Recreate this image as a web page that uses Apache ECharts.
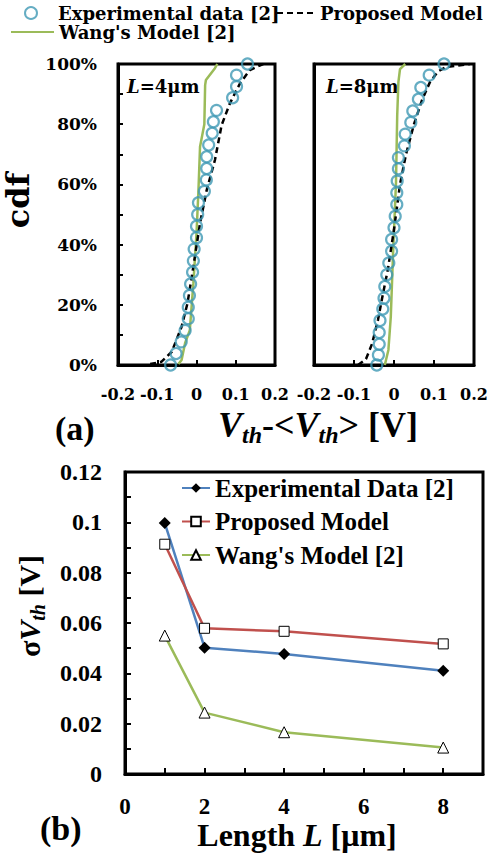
<!DOCTYPE html>
<html><head><meta charset="utf-8">
<script src="https://cdn.jsdelivr.net/npm/echarts/dist/echarts.min.js"></script>
<style>html,body{margin:0;padding:0;background:#fff}#chart{width:490px;height:854px}</style>
</head><body><div id="chart"></div>
<script>
// ---------- (a) cdf panels ----------
const cdfLabelsPct = [0, 20, 40, 60, 80, 100];
// L = 4 um
const expL4_dv  = [0.130,0.102,0.102,0.092,0.051,0.043,0.040,0.031,0.026,0.026,0.025,0.020,0.005,0.003,0.000,0.000,-0.006,-0.008,-0.010,-0.015,-0.018,-0.021,-0.021,-0.029,-0.039,-0.052,-0.066];
const expL4_cdf = [1.000,0.963,0.925,0.888,0.846,0.808,0.770,0.731,0.692,0.653,0.615,0.577,0.539,0.500,0.461,0.423,0.385,0.346,0.308,0.269,0.231,0.192,0.154,0.115,0.077,0.038,0.000];
const propL4_dv  = [-0.118,-0.089,-0.063,-0.038,-0.023,-0.008,0.009,0.026,0.047,0.064,0.085,0.111,0.136,0.170];
const propL4_cdf = [0.003,0.011,0.044,0.127,0.205,0.327,0.471,0.581,0.681,0.797,0.869,0.936,0.980,1.000];
const wangL4_dv  = [-0.046,-0.038,-0.029,-0.017,-0.008,0.000,0.005,0.009,0.020,0.022,0.024,0.047,0.053];
const wangL4_cdf = [0.003,0.017,0.073,0.116,0.271,0.437,0.581,0.725,0.800,0.930,0.947,0.986,1.000];
// L = 8 um
const expL8_dv  = [0.125,0.088,0.067,0.061,0.047,0.042,0.028,0.026,0.011,0.011,0.008,0.007,0.007,0.003,0.000,-0.006,-0.006,-0.013,-0.018,-0.023,-0.025,-0.028,-0.035,-0.037,-0.037,-0.039,-0.043];
const expL8_cdf = [1.000,0.963,0.922,0.883,0.844,0.806,0.767,0.728,0.689,0.652,0.611,0.572,0.533,0.494,0.456,0.417,0.378,0.339,0.300,0.261,0.222,0.186,0.148,0.108,0.069,0.033,0.000];
const propL8_dv  = [-0.090,-0.070,-0.055,-0.040,-0.030,-0.015,0.000,0.015,0.030,0.050,0.070,0.090,0.110,0.130,0.190];
const propL8_cdf = [0.000,0.020,0.070,0.150,0.220,0.320,0.450,0.600,0.700,0.800,0.880,0.940,0.975,0.990,1.000];
const wangL8_dv  = [-0.023,-0.014,-0.008,-0.002,0.005,0.008,0.011,0.015,0.028];
const wangL8_cdf = [0.000,0.050,0.161,0.383,0.606,0.828,0.940,0.983,1.000];

// ---------- (b) sigma Vth vs L ----------
const lengthsUm = [1, 2, 4, 8];
const lengthLabels = [0, 2, 4, 6, 8];
const sigmaLabels = [0, 0.02, 0.04, 0.06, 0.08, 0.1, 0.12];
const sigmaExp  = [0.0997, 0.0502, 0.0477, 0.0410];
const sigmaProp = [0.0913, 0.0579, 0.0567, 0.0517];
const sigmaWang = [0.0550, 0.0244, 0.0166, 0.0105];

const FA = 'DejaVu Serif';
const FB = 'Liberation Serif';
const TEAL = '#3F98B4', GREEN = '#9BBB59', BLUE = '#4F81BD', RED = '#C0504D';

function pairs(xs, ys) { return xs.map((x, i) => [x, ys[i]]); }

const topX = (idx) => ({
  type: 'value', gridIndex: idx, min: -0.2, max: 0.2, interval: 0.1,
  axisLine: { show: true, onZero: false, lineStyle: { color: '#000', width: 3 } },
  axisTick: { show: true, inside: true, length: 5, lineStyle: { color: '#000', width: 2 } },
  axisLabel: { show: true, margin: 21, color: '#000', fontFamily: FA, fontWeight: 'bold', fontSize: 16, lineHeight: 16, showMinLabel: true, showMaxLabel: true },
  splitLine: { show: false }
});
const topY = (idx, showLab) => ({
  type: 'value', gridIndex: idx, min: 0, max: 1, interval: 0.1,
  axisLine: { show: true, onZero: false, lineStyle: { color: '#000', width: 3 } },
  axisTick: { show: showLab, inside: true, length: 5, lineStyle: { color: '#000', width: 2 } },
  axisLabel: { show: showLab, margin: 21, color: '#000', fontFamily: FA, fontWeight: 'bold', fontSize: 17,
    formatter: v => { const p = Math.round(v * 100); return cdfLabelsPct.includes(p) ? p + '%' : ''; } },
  splitLine: { show: false }
});

const yA = topY(0, true);
Object.assign(yA, {
  name: 'cdf', nameLocation: 'middle', nameRotate: 90, nameGap: 85, nameMoveOverlap: false,
  nameTextStyle: { fontFamily: FA, fontWeight: 'bold', fontSize: 32, lineHeight: 30, color: '#000', padding: [0, 0, 0, 28] }
});

function cdfSeries(idx, expX, expY, propX, propY, wangX, wangY) {
  return [
    { name: "Wang's Model [2]", type: 'line', xAxisIndex: idx, yAxisIndex: idx, data: pairs(wangX, wangY),
      symbol: 'none', lineStyle: { color: GREEN, width: 2.5 }, itemStyle: { color: GREEN }, z: 2 },
    { name: 'Proposed Model', type: 'line', xAxisIndex: idx, yAxisIndex: idx, data: pairs(propX, propY),
      symbol: 'none', lineStyle: { color: '#000', width: 2.5, type: [6, 4] }, itemStyle: { color: '#000' }, z: 3 },
    { name: 'Experimental data [2]', type: 'scatter', xAxisIndex: idx, yAxisIndex: idx, data: pairs(expX, expY),
      symbol: 'circle', symbolSize: 11, itemStyle: { color: 'rgba(255,255,255,0)', borderColor: TEAL, borderWidth: 2.2 }, z: 4 }
  ];
}

const legText = { fontFamily: FA, fontWeight: 'bold', fontSize: 18, color: '#000', lineHeight: 18 };
const legBText = { fontFamily: FB, fontWeight: 'bold', fontSize: 25, color: '#000', lineHeight: 26 };
const noSymbol = { color: 'rgba(0,0,0,0)', borderWidth: 0, opacity: 0 };

const option = {
  animation: false,
  backgroundColor: '#fff',
  grid: [
    { left: 118, top: 64, width: 157, height: 301, show: true, borderColor: '#000', borderWidth: 3, backgroundColor: 'rgba(0,0,0,0)', outerBoundsMode: 'none' },
    { left: 314, top: 64, width: 160, height: 301, show: true, borderColor: '#000', borderWidth: 3, backgroundColor: 'rgba(0,0,0,0)', outerBoundsMode: 'none' },
    { left: 125, top: 472, width: 358, height: 302, show: true, borderColor: '#000', borderWidth: 3, backgroundColor: 'rgba(0,0,0,0)', outerBoundsMode: 'none' }
  ],
  xAxis: [
    topX(0), topX(1),
    { type: 'value', gridIndex: 2, min: 0, max: 9, interval: 1,
      axisLine: { show: true, onZero: false, lineStyle: { color: '#000', width: 3 } },
      axisTick: { show: true, inside: true, length: 6, lineStyle: { color: '#000', width: 2 } },
      axisLabel: { margin: 20, color: '#000', fontFamily: FB, fontWeight: 'bold', fontSize: 23, lineHeight: 24,
        formatter: v => lengthLabels.includes(Math.round(v)) && Math.abs(v - Math.round(v)) < 1e-9 ? String(Math.round(v)) : '' },
      splitLine: { show: false },
      name: 'Length {i|L} [μm]', nameLocation: 'middle', nameGap: 46, nameMoveOverlap: false,
      nameTextStyle: { fontFamily: FB, fontWeight: 'bold', fontSize: 32, lineHeight: 30, color: '#000', padding: [0, 14, 0, 0],
        rich: { i: { fontFamily: FB, fontWeight: 'bold', fontStyle: 'italic', fontSize: 32, lineHeight: 30, color: '#000' } } } }
  ],
  yAxis: [
    yA, topY(1, false),
    { type: 'value', gridIndex: 2, min: 0, max: 0.12, interval: 0.01,
      axisLine: { show: true, onZero: false, lineStyle: { color: '#000', width: 3 } },
      axisTick: { show: true, inside: true, length: 6, lineStyle: { color: '#000', width: 2 } },
      axisLabel: { margin: 23, color: '#000', fontFamily: FB, fontWeight: 'bold', fontSize: 24,
        formatter: v => { const r = Math.round(v * 100) / 100; return sigmaLabels.some(s => Math.abs(s - r) < 1e-9) && Math.abs(v - r) < 1e-9 ? String(r) : ''; } },
      splitLine: { show: false },
      name: '{s|σ}{i|V}{sub|th}{n| [V]}', nameLocation: 'middle', nameRotate: 90, nameGap: 77, nameMoveOverlap: false,
      nameTextStyle: { fontFamily: FB, fontWeight: 'bold', fontSize: 30, color: '#000', padding: [0, 0, 0, 34],
        rich: {
          s: { fontFamily: FB, fontWeight: 'bold', fontSize: 30, color: '#000', lineHeight: 32, padding: [0, 0, 4, 0], verticalAlign: 'bottom' },
          i: { fontFamily: FB, fontWeight: 'bold', fontStyle: 'italic', fontSize: 30, color: '#000', lineHeight: 32, padding: [0, 0, 4, 0], verticalAlign: 'bottom' },
          sub: { fontFamily: FB, fontWeight: 'bold', fontStyle: 'italic', fontSize: 20, color: '#000', lineHeight: 20, verticalAlign: 'bottom' },
          n: { fontFamily: FB, fontWeight: 'bold', fontSize: 30, color: '#000', lineHeight: 32, padding: [0, 0, 4, 0], verticalAlign: 'bottom' }
        } } }
  ],
  legend: [
    { data: ['Experimental data [2]'], left: 24, top: 4, padding: 0, itemWidth: 12, itemHeight: 12, selectedMode: false,
      textStyle: Object.assign({}, legText, { padding: [0, 0, 0, 16] }) },
    { data: ['Proposed Model'], left: 276, top: 4, padding: 0, itemWidth: 38, itemHeight: 12, selectedMode: false, textStyle: legText, itemStyle: noSymbol },
    { data: ["Wang's Model [2]"], left: 10, top: 23, padding: 0, itemWidth: 43, itemHeight: 12, selectedMode: false, textStyle: legText, itemStyle: noSymbol },
    { data: ['Experimental Data [2]', 'Proposed Model ', "Wang's Model [2] "], orient: 'vertical', left: 181, top: 475, padding: 0,
      itemWidth: 28, itemHeight: 12, itemGap: 7.5, selectedMode: false, textStyle: legBText, formatter: n => n.trim() }
  ],
  graphic: [
    { type: 'text', x: 127, y: 86, style: { text: '{i|L}{n|=4μm}', verticalAlign: 'middle', fill: '#000',
        rich: { i: { fontFamily: FA, fontWeight: 'bold', fontStyle: 'italic', fontSize: 18, fill: '#000' }, n: { fontFamily: FA, fontWeight: 'bold', fontSize: 18, fill: '#000' } } } },
    { type: 'text', x: 326, y: 86, style: { text: '{i|L}{n|=8μm}', verticalAlign: 'middle', fill: '#000',
        rich: { i: { fontFamily: FA, fontWeight: 'bold', fontStyle: 'italic', fontSize: 18, fill: '#000' }, n: { fontFamily: FA, fontWeight: 'bold', fontSize: 18, fill: '#000' } } } },
    { type: 'text', x: 55, y: 428, style: { text: '(a)', fontFamily: FB, fontWeight: 'bold', fontSize: 34, lineHeight: 34, fill: '#000', verticalAlign: 'middle' } },
    { type: 'text', x: 218, y: 432, style: { text: '{i|V}{sub|th}{n|-<}{i|V}{sub|th}{n|> [V]}', verticalAlign: 'middle', fill: '#000',
        rich: {
          i: { fontFamily: FB, fontWeight: 'bold', fontStyle: 'italic', fontSize: 36, fill: '#000', lineHeight: 30, padding: [0, 0, 4, 0], verticalAlign: 'bottom' },
          sub: { fontFamily: FB, fontWeight: 'bold', fontStyle: 'italic', fontSize: 24, fill: '#000', lineHeight: 20, verticalAlign: 'bottom' },
          n: { fontFamily: FB, fontWeight: 'bold', fontSize: 36, fill: '#000', lineHeight: 30, padding: [0, 0, 4, 0], verticalAlign: 'bottom' }
        } } },
    { type: 'text', x: 40, y: 828, style: { text: '(b)', fontFamily: FB, fontWeight: 'bold', fontSize: 34, fill: '#000', verticalAlign: 'middle' } }
  ],
  series: [
    ...cdfSeries(0, expL4_dv, expL4_cdf, propL4_dv, propL4_cdf, wangL4_dv, wangL4_cdf),
    ...cdfSeries(1, expL8_dv, expL8_cdf, propL8_dv, propL8_cdf, wangL8_dv, wangL8_cdf),
    { name: 'Experimental Data [2]', type: 'line', xAxisIndex: 2, yAxisIndex: 2, data: pairs(lengthsUm, sigmaExp),
      symbol: 'diamond', symbolSize: 12, lineStyle: { color: BLUE, width: 2.5 }, itemStyle: { color: '#000', borderWidth: 0 }, z: 3 },
    { name: 'Proposed Model ', type: 'line', xAxisIndex: 2, yAxisIndex: 2, data: pairs(lengthsUm, sigmaProp),
      symbol: 'rect', symbolSize: 10, lineStyle: { color: RED, width: 2.5 }, itemStyle: { color: '#fff', borderColor: '#000', borderWidth: 1 }, z: 3 },
    { name: "Wang's Model [2] ", type: 'line', xAxisIndex: 2, yAxisIndex: 2, data: pairs(lengthsUm, sigmaWang),
      symbol: 'triangle', symbolSize: 11, lineStyle: { color: GREEN, width: 2.5 }, itemStyle: { color: '#fff', borderColor: '#000', borderWidth: 1 }, z: 3 }
  ]
};

const chart = echarts.init(document.getElementById('chart'), null, { renderer: 'svg' });
chart.setOption(option);
</script>
</body></html>
